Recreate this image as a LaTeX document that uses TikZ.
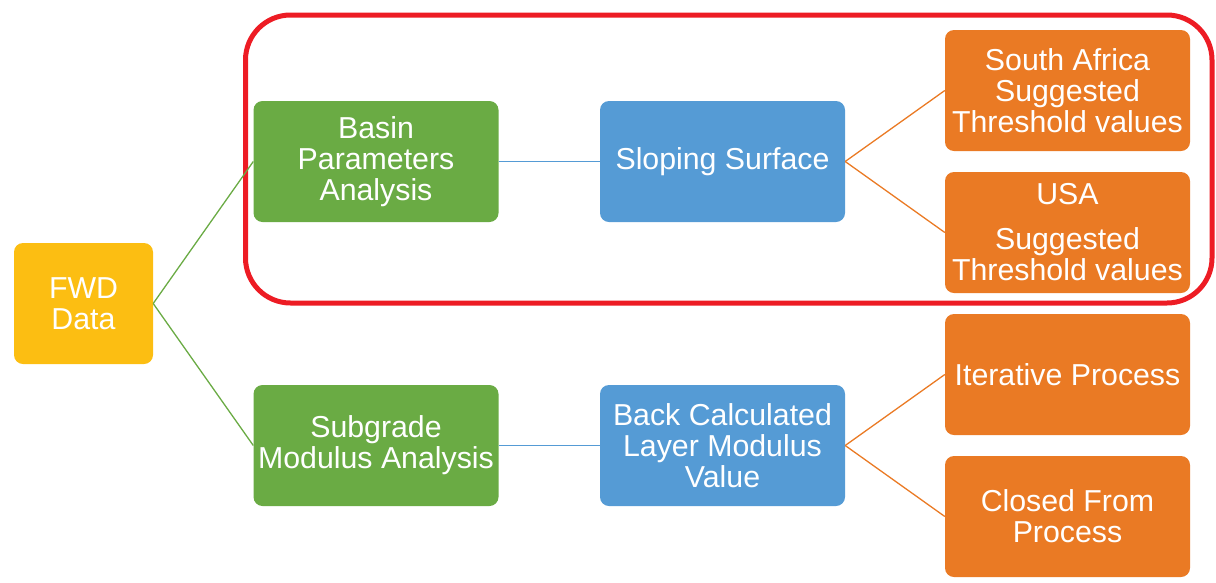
\documentclass[tikz,border=0pt]{standalone}
\usepackage{fontspec}
\setmainfont{Liberation Sans}
\definecolor{fwdcol}{RGB}{252, 190, 18}
\definecolor{basincol}{RGB}{106, 171, 68}
\definecolor{surfcol}{RGB}{85, 155, 213}
\definecolor{threshcol}{RGB}{234, 122, 36}
\definecolor{framecol}{RGB}{237, 28, 36}

\begin{document}
\begin{tikzpicture}[x=1pt, y=1pt,
	box/.style={rounded corners=9pt, minimum width=245pt, minimum height=121pt, inner sep=0pt,
		text=white, align=center, font=\fontsize{30.3}{31}\selectfont},
	link/.style={line width=1.3pt}]
	\useasboundingbox (0, 0) rectangle (1216, -582);
	% highlight frame
	\draw [framecol, line width=5pt, rounded corners=45pt] (245.5, -15) rectangle (1212, -303);
	% boxes
	\node [box, fill=fwdcol, minimum width=139pt] (fwd) at (83.5, -303.5) {FWD\\Data};
	\node [box, fill=basincol] (basin) at (376, -161.5) {Basin\\Parameters\\Analysis};
	\node [box, fill=basincol] (subgrade) at (376, -445.5) {Subgrade\\Modulus Analysis};
	\node [box, fill=surfcol] (sloping) at (722.5, -161.5) {Sloping Surface};
	\node [box, fill=surfcol] (backcalc) at (722.5, -445.5) {Back Calculated\\Layer Modulus\\Value};
	\node [box, fill=threshcol] (safrica) at (1067.5, -90.5) {South Africa\\Suggested\\Threshold values};
	\node [box, fill=threshcol] (usa) at (1067.5, -232.5) {USA\\[14pt]Suggested\\Threshold values};
	\node [box, fill=threshcol] (iter) at (1067.5, -374.5) {Iterative Process};
	\node [box, fill=threshcol] (closed) at (1067.5, -516.5) {Closed From\\Process};
	% connectors
	\draw [link, basincol] (fwd.east) -- (basin.west);
	\draw [link, basincol] (fwd.east) -- (subgrade.west);
	\draw [link, surfcol] (basin.east) -- (sloping.west);
	\draw [link, surfcol] (subgrade.east) -- (backcalc.west);
	\draw [link, threshcol] (sloping.east) -- (safrica.west);
	\draw [link, threshcol] (sloping.east) -- (usa.west);
	\draw [link, threshcol] (backcalc.east) -- (iter.west);
	\draw [link, threshcol] (backcalc.east) -- (closed.west);
\end{tikzpicture}
\end{document}
